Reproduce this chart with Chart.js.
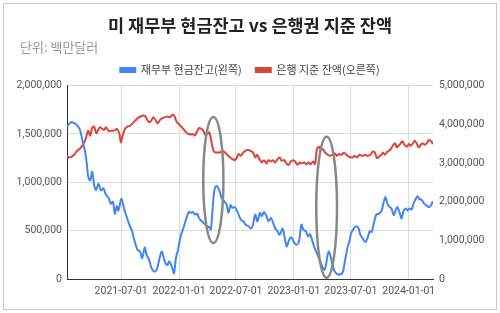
<!DOCTYPE html>
<html><head><meta charset="utf-8">
<script src="https://cdn.jsdelivr.net/npm/chart.js@4/dist/chart.umd.min.js"></script>
<style>html,body{margin:0;padding:0;background:#fff}#wrap{width:500px;height:313px;position:relative}</style>
</head><body><div id="wrap"><canvas id="c" width="500" height="313"></canvas></div>
<script>
const chartTitle = '미 재무부 현금잔고 vs 은행권 지준 잔액';
const unitLabel = '단위: 백만달러';
const seriesNames = ['재무부 현금잔고(왼쪽)', '은행 지준 잔액(오른쪽)'];

const tgaDates = ['2021-01-10','2021-01-23','2021-02-02','2021-02-12','2021-02-21','2021-02-28','2021-03-08','2021-03-14','2021-03-19','2021-03-25','2021-03-31','2021-04-06','2021-04-12','2021-04-20','2021-04-28','2021-05-06','2021-05-13','2021-05-22','2021-05-29','2021-06-05','2021-06-11','2021-06-17','2021-06-22','2021-07-02','2021-07-11','2021-07-19','2021-07-27','2021-08-05','2021-08-13','2021-08-22','2021-08-30','2021-09-06','2021-09-14','2021-09-20','2021-09-28','2021-10-05','2021-10-14','2021-10-22','2021-10-30','2021-11-07','2021-11-14','2021-11-19','2021-11-25','2021-12-01','2021-12-09','2021-12-16','2021-12-22','2021-12-30','2022-01-06','2022-01-15','2022-01-23','2022-02-01','2022-02-07','2022-02-13','2022-02-21','2022-02-28','2022-03-06','2022-03-15','2022-03-23','2022-03-30','2022-04-07','2022-04-12','2022-04-18','2022-04-23','2022-04-30','2022-05-09','2022-05-16','2022-05-24','2022-06-01','2022-06-07','2022-06-14','2022-06-20','2022-06-28','2022-07-07','2022-07-16','2022-07-24','2022-08-01','2022-08-10','2022-08-18','2022-08-24','2022-08-31','2022-09-07','2022-09-15','2022-09-21','2022-09-28','2022-10-06','2022-10-12','2022-10-20','2022-10-27','2022-11-02','2022-11-10','2022-11-17','2022-11-26','2022-12-02','2022-12-09','2022-12-17','2022-12-24','2023-01-01','2023-01-09','2023-01-17','2023-01-25','2023-01-31','2023-02-08','2023-02-15','2023-02-21','2023-03-01','2023-03-08','2023-03-17','2023-03-24','2023-03-30','2023-04-07','2023-04-12','2023-04-17','2023-04-22','2023-04-29','2023-05-05','2023-05-11','2023-05-20','2023-05-30','2023-06-06','2023-06-12','2023-06-20','2023-06-27','2023-07-02','2023-07-10','2023-07-18','2023-07-25','2023-07-31','2023-08-08','2023-08-16','2023-08-23','2023-08-30','2023-09-05','2023-09-11','2023-09-20','2023-09-28','2023-10-06','2023-10-13','2023-10-19','2023-10-26','2023-11-01','2023-11-07','2023-11-14','2023-11-20','2023-11-26','2023-12-03','2023-12-09','2023-12-15','2023-12-22','2023-12-28','2024-01-03','2024-01-10','2024-01-16','2024-01-22','2024-01-29','2024-02-04','2024-02-10','2024-02-17','2024-02-25','2024-03-05','2024-03-12','2024-03-18'];
const tgaValues = [1576000,1622000,1611000,1587000,1535000,1430000,1326000,1187000,1049000,1021000,1111000,979000,917000,986000,917000,937000,875000,840000,778000,799000,674000,753000,708000,833000,719000,639000,562000,493000,389000,302000,285000,215000,326000,250000,198000,118000,76000,94000,198000,285000,215000,163000,146000,181000,128000,59000,215000,319000,441000,528000,615000,694000,684000,694000,667000,674000,625000,597000,570000,545000,535000,510000,736000,910000,962000,917000,840000,805000,771000,684000,764000,736000,743000,684000,615000,597000,562000,545000,521000,562000,667000,597000,684000,649000,694000,649000,597000,632000,580000,528000,493000,458000,521000,441000,337000,406000,430000,382000,354000,389000,562000,510000,493000,441000,465000,389000,319000,250000,198000,146000,94000,128000,233000,285000,215000,128000,76000,49000,49000,76000,181000,319000,400000,476000,521000,545000,528000,458000,417000,382000,424000,493000,486000,562000,667000,674000,701000,788000,847000,771000,743000,729000,660000,708000,743000,684000,625000,701000,729000,708000,729000,719000,778000,823000,857000,823000,823000,788000,764000,743000,764000,805000];

const reserveDates = ['2021-01-10','2021-01-17','2021-01-24','2021-02-02','2021-02-11','2021-02-19','2021-02-27','2021-03-06','2021-03-12','2021-03-18','2021-03-25','2021-03-31','2021-04-06','2021-04-13','2021-04-19','2021-04-25','2021-05-02','2021-05-08','2021-05-14','2021-05-23','2021-05-31','2021-06-09','2021-06-17','2021-06-25','2021-06-30','2021-07-06','2021-07-13','2021-07-21','2021-07-30','2021-08-07','2021-08-15','2021-08-24','2021-09-01','2021-09-10','2021-09-16','2021-09-22','2021-09-29','2021-10-05','2021-10-11','2021-10-18','2021-10-24','2021-11-02','2021-11-10','2021-11-18','2021-11-25','2021-12-03','2021-12-12','2021-12-18','2021-12-25','2022-01-02','2022-01-10','2022-01-19','2022-01-27','2022-02-05','2022-02-13','2022-02-20','2022-02-26','2022-03-06','2022-03-13','2022-03-19','2022-03-25','2022-04-01','2022-04-07','2022-04-13','2022-04-20','2022-04-26','2022-05-02','2022-05-11','2022-05-19','2022-05-27','2022-06-03','2022-06-12','2022-06-20','2022-06-26','2022-07-03','2022-07-09','2022-07-16','2022-07-22','2022-07-30','2022-08-08','2022-08-16','2022-08-24','2022-08-31','2022-09-06','2022-09-12','2022-09-21','2022-09-28','2022-10-06','2022-10-12','2022-10-20','2022-10-27','2022-11-02','2022-11-10','2022-11-17','2022-11-23','2022-12-01','2022-12-08','2022-12-15','2022-12-22','2022-12-29','2023-01-05','2023-01-12','2023-01-20','2023-01-26','2023-02-02','2023-02-10','2023-02-16','2023-02-23','2023-03-03','2023-03-09','2023-03-15','2023-03-22','2023-03-28','2023-04-03','2023-04-10','2023-04-16','2023-04-25','2023-05-03','2023-05-11','2023-05-18','2023-05-24','2023-06-02','2023-06-09','2023-06-17','2023-06-25','2023-07-06','2023-07-13','2023-07-20','2023-07-29','2023-08-06','2023-08-15','2023-08-23','2023-09-01','2023-09-09','2023-09-15','2023-09-22','2023-09-28','2023-10-06','2023-10-11','2023-10-17','2023-10-23','2023-10-30','2023-11-05','2023-11-11','2023-11-18','2023-11-24','2023-11-30','2023-12-06','2023-12-12','2023-12-18','2023-12-26','2024-01-01','2024-01-07','2024-01-14','2024-01-20','2024-01-26','2024-02-02','2024-02-08','2024-02-14','2024-02-21','2024-02-27','2024-03-05','2024-03-12','2024-03-18'];
const reserveValues = [3185000,3143000,3160000,3211000,3315000,3359000,3445000,3533000,3664000,3836000,3706000,3906000,3940000,3768000,3854000,3924000,3880000,3854000,3924000,3820000,3836000,3836000,3880000,3768000,3533000,3706000,3880000,3940000,3966000,4028000,4096000,4166000,4201000,4227000,4201000,4114000,4054000,4096000,4184000,4114000,4028000,4114000,4166000,4184000,4201000,4184000,4253000,4201000,4054000,3992000,3924000,3836000,3768000,3733000,3750000,3706000,3794000,3906000,3880000,3836000,3733000,3750000,3794000,3594000,3315000,3273000,3273000,3273000,3315000,3273000,3211000,3143000,3099000,3073000,3125000,3229000,3185000,3247000,3315000,3333000,3315000,3273000,3143000,3211000,3125000,3013000,3073000,2987000,3073000,3039000,3073000,3013000,3099000,3143000,3056000,3073000,2987000,2951000,3039000,3073000,3039000,2951000,3013000,2987000,3013000,2969000,3013000,2969000,3039000,2969000,3359000,3420000,3333000,3359000,3273000,3229000,3185000,3211000,3247000,3185000,3229000,3211000,3273000,3211000,3160000,3143000,3185000,3143000,3211000,3185000,3211000,3185000,3211000,3299000,3273000,3125000,3160000,3211000,3273000,3211000,3273000,3315000,3359000,3445000,3507000,3403000,3445000,3507000,3560000,3472000,3420000,3490000,3445000,3507000,3576000,3507000,3403000,3472000,3507000,3472000,3507000,3594000,3560000,3490000];

const xTickDates = ['2021-07-01','2022-01-01','2022-07-01','2023-01-01','2023-07-01','2024-01-01'];
const leftAxisMax = 2000000, leftAxisStep = 500000;
const rightAxisMax = 5000000, rightAxisStep = 1000000;
// highlighted periods (ellipses): date span and left-axis value span
const highlights = [
  {from:'2022-03-19', to:'2022-05-22', low:372000, high:1674000},
  {from:'2023-03-13', to:'2023-05-18', low:14000, high:1472000}
];

const ms = d => Date.parse(d);
const toXY = (dates, vals) => dates.map((d,i)=>({x:ms(d), y:vals[i]}));
const fmt = v => Number(v).toLocaleString('en-US');
const FONT = "'Noto Sans CJK KR', Roboto, sans-serif";
const TICKFONT = "Roboto, 'Noto Sans', sans-serif";

const framePlugin = {
  id:'frame',
  beforeDraw(chart){
    const c = chart.ctx; c.save();
    c.fillStyle='#fff'; c.fillRect(0,0,chart.width,chart.height);
    c.strokeStyle='#c8c8c8'; c.lineWidth=1;
    c.strokeRect(3.5,3.5,493,306);
    c.restore();
  },
  afterDraw(chart){
    // unit note under the title, left aligned
    const c = chart.ctx; c.save();
    c.fillStyle='#9a9a9a'; c.font="13px "+FONT; c.textAlign='left'; c.textBaseline='middle';
    c.fillText(unitLabel, 20, 47.5);
    c.restore();
  }
};
const ellipsePlugin = {
  id:'ellipses',
  afterDatasetsDraw(chart){
    const c = chart.ctx, xs = chart.scales.x, ys = chart.scales.y;
    c.save();
    c.strokeStyle='#888888'; c.lineWidth=2.5;
    highlights.forEach(h=>{
      const x1 = xs.getPixelForValue(ms(h.from)), x2 = xs.getPixelForValue(ms(h.to));
      const y1 = ys.getPixelForValue(h.high), y2 = ys.getPixelForValue(h.low);
      c.beginPath();
      c.ellipse((x1+x2)/2,(y1+y2)/2,Math.abs(x2-x1)/2,Math.abs(y2-y1)/2,0,0,Math.PI*2);
      c.stroke();
    });
    c.restore();
  }
};

new Chart(document.getElementById('c'), {
  type:'line',
  data:{datasets:[
    {label:seriesNames[0], data:toXY(tgaDates,tgaValues), yAxisID:'y', borderColor:'#4285f4', backgroundColor:'#4285f4', borderWidth:2, pointRadius:0, tension:0.3},
    {label:seriesNames[1], data:toXY(reserveDates,reserveValues), yAxisID:'y1', borderColor:'#db4437', backgroundColor:'#db4437', borderWidth:2, pointRadius:0, tension:0.3}
  ]},
  options:{
    responsive:false, animation:false, devicePixelRatio:1,
    layout:{padding:{left:0,right:0,top:0,bottom:0}},
    plugins:{
      title:{display:true, text:chartTitle, color:'#222', font:{family:FONT, size:17.5, weight:'bold'}, padding:{top:15,bottom:14.6}},
      legend:{display:true, labels:{color:'#444', font:{family:FONT,size:11}, boxWidth:15, boxHeight:4, padding:14}},
      tooltip:{enabled:false}
    },
    scales:{
      x:{type:'linear', min:ms(tgaDates[0]), max:ms(tgaDates[tgaDates.length-1]),
        afterBuildTicks(s){ s.ticks = xTickDates.map(d=>({value:ms(d)})); },
        afterFit(s){ s.height = 34; },
        ticks:{callback:v=>new Date(v).toISOString().slice(0,10), color:'#555', font:{family:TICKFONT,size:10.5}, padding:6, maxRotation:0, autoSkip:false},
        grid:{color:'#dcdcdc', drawTicks:false},
        border:{display:true, color:'#333', width:1}
      },
      y:{position:'left', min:0, max:leftAxisMax,
        afterFit(s){ s.width = 67; },
        ticks:{stepSize:leftAxisStep, callback:fmt, color:'#555', font:{family:TICKFONT,size:10.5}, padding:5},
        grid:{color:'#dcdcdc', drawTicks:false},
        border:{display:true, color:'#333', width:1}
      },
      y1:{position:'right', min:0, max:rightAxisMax,
        afterFit(s){ s.width = 67; },
        ticks:{stepSize:rightAxisStep, callback:fmt, color:'#555', font:{family:TICKFONT,size:10.5}, padding:6},
        grid:{drawOnChartArea:false, drawTicks:false},
        border:{display:false}
      }
    }
  },
  plugins:[framePlugin, ellipsePlugin]
});
</script></body></html>
